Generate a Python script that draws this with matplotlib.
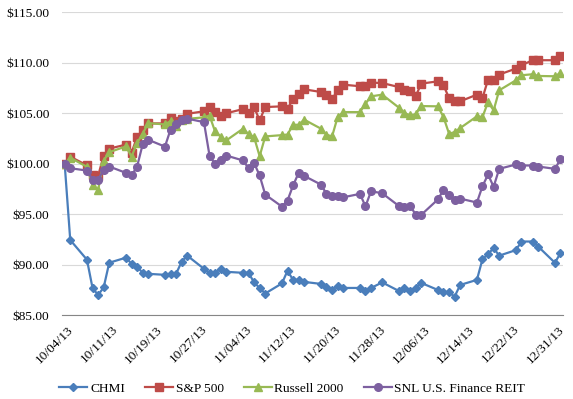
import matplotlib
matplotlib.use("Agg")
import matplotlib.pyplot as plt
import numpy as np
import pandas as pd

# trading days, Oct 3 - Dec 31 2013
dates = [
    "2013-10-03", "2013-10-04", "2013-10-07", "2013-10-08", "2013-10-09", "2013-10-10", "2013-10-11",
    "2013-10-14", "2013-10-15", "2013-10-16", "2013-10-17", "2013-10-18",
    "2013-10-21", "2013-10-22", "2013-10-23", "2013-10-24", "2013-10-25",
    "2013-10-28", "2013-10-29", "2013-10-30", "2013-10-31", "2013-11-01",
    "2013-11-04", "2013-11-05", "2013-11-06", "2013-11-07", "2013-11-08",
    "2013-11-11", "2013-11-12", "2013-11-13", "2013-11-14", "2013-11-15",
    "2013-11-18", "2013-11-19", "2013-11-20", "2013-11-21", "2013-11-22",
    "2013-11-25", "2013-11-26", "2013-11-27", "2013-11-29",
    "2013-12-02", "2013-12-03", "2013-12-04", "2013-12-05", "2013-12-06",
    "2013-12-09", "2013-12-10", "2013-12-11", "2013-12-12", "2013-12-13",
    "2013-12-16", "2013-12-17", "2013-12-18", "2013-12-19", "2013-12-20",
    "2013-12-23", "2013-12-24", "2013-12-26", "2013-12-27", "2013-12-30", "2013-12-31",
]

chmi = [100, 92.45, 90.5, 87.7, 87.0, 87.75, 90.2,
        90.7, 90.1, 89.8, 89.2, 89.1,
        89.0, 89.08, 89.1, 90.3, 90.9,
        89.6, 89.2, 89.2, 89.6, 89.3,
        89.2, 89.2, 88.25, 87.7, 87.15,
        88.15, 89.4, 88.5, 88.5, 88.3,
        88.1, 87.8, 87.5, 87.9, 87.7,
        87.7, 87.4, 87.7, 88.25,
        87.4, 87.65, 87.4, 87.7, 88.2,
        87.5, 87.3, 87.25, 86.85, 88.0,
        88.5, 90.55, 91.05, 91.65, 90.9,
        91.45, 92.3, 92.3, 91.8, 90.2, 91.15]

sp500 = [100, 100.7, 99.85, 98.85, 98.8, 100.8, 101.5,
         101.9, 101.1, 102.65, 103.35, 104.0,
         104.0, 104.55, 104.2, 104.45, 104.95,
         105.2, 105.6, 105.15, 104.75, 105.0,
         105.42, 105.08, 105.62, 104.3, 105.62,
         105.69, 105.46, 106.4, 106.95, 107.38,
         107.11, 106.85, 106.39, 107.28, 107.84,
         107.68, 107.68, 108.04, 108.0,
         107.6, 107.35, 107.18, 106.68, 107.94,
         108.17, 107.78, 106.51, 106.19, 106.19,
         106.85, 106.51, 108.34, 108.27, 108.84,
         109.43, 109.76, 110.26, 110.26, 110.26, 110.69]

russell = [100, 100.6, 99.7, 97.85, 97.4, 100.3, 101.15,
           101.72, 100.72, 102.05, 102.98, 104.03,
           103.9, 104.23, 103.74, 104.3, 104.45,
           104.6, 104.78, 103.2, 102.7, 102.31,
           103.47, 102.95, 102.64, 100.75, 102.71,
           102.84, 102.9, 103.85, 103.87, 104.37,
           103.48, 102.88, 102.71, 104.63, 105.12,
           105.12, 105.96, 106.68, 106.85,
           105.56, 105.02, 104.8, 104.9, 105.72,
           105.69, 104.63, 102.98, 103.14, 103.54,
           104.7, 104.63, 106.12, 105.29, 107.28,
           108.27, 108.77, 108.87, 108.7, 108.67, 109.0]

snl = [100, 99.56, 99.33, 98.44, 98.44, 99.4, 99.73,
       99.1, 98.84, 99.73, 101.92, 102.38,
       101.7, 103.38, 103.97, 104.37, 104.47,
       104.13, 100.82, 99.95, 100.33, 100.82,
       100.33, 99.58, 100.08, 98.84, 96.95,
       95.76, 96.36, 97.85, 99.1, 98.8,
       97.94, 97.02, 96.78, 96.78, 96.68,
       97.02, 95.79, 97.28, 97.08,
       95.82, 95.69, 95.86, 94.97, 94.94,
       96.47, 97.42, 96.95, 96.44, 96.55,
       96.16, 97.78, 98.94, 97.72, 99.5,
       99.93, 99.83, 99.83, 99.73, 99.5, 100.43]

tick_labels = ["10/04/13", "10/11/13", "10/19/13", "10/27/13", "11/04/13", "11/12/13",
               "11/20/13", "11/28/13", "12/06/13", "12/14/13", "12/22/13", "12/31/13"]

d = pd.to_datetime(dates)
x = np.array((d - d[0]).days)

plt.rcParams['font.family'] = ['Liberation Serif', 'DejaVu Serif']
fs = 9.6

fig = plt.figure(figsize=(5.73, 3.99), dpi=100)
ax = fig.add_axes([0.108, 0.21, 0.875, 0.759])

ax.plot(x, chmi, color='#4A7EBB', lw=1.6, marker='D', ms=4, label='CHMI', zorder=3)
ax.plot(x, sp500, color='#BE4B48', lw=1.6, marker='s', ms=5.5, label='S&P 500', zorder=3)
ax.plot(x, russell, color='#98B954', lw=1.6, marker='^', ms=6, label='Russell 2000', zorder=3)
ax.plot(x, snl, color='#7D60A0', lw=1.6, marker='o', ms=5.5, label='SNL U.S. Finance REIT', zorder=3)

ax.set_xlim(-0.5, x[-1] + 0.5)
ax.set_ylim(85, 115)
ax.set_yticks(np.arange(85, 116, 5))
ax.set_yticklabels(['$%.2f' % v for v in np.arange(85, 116, 5)], fontsize=fs)
ax.set_xticks(np.linspace(0.5, 88.5, len(tick_labels)))
ax.set_xticklabels(tick_labels, rotation=45, ha='right', rotation_mode='anchor', fontsize=fs)
ax.tick_params(axis='y', length=0, pad=9)
ax.tick_params(axis='x', length=0, pad=6)

ax.grid(axis='y', color='#D9D9D9', lw=0.8)
ax.set_axisbelow(True)
for s in ['top', 'right', 'left']:
    ax.spines[s].set_visible(False)
ax.spines['bottom'].set_color('#868686')

fig.legend(loc='lower center', bbox_to_anchor=(0.51, -0.02), ncol=4, frameon=False,
           fontsize=fs, handlelength=2.1, handletextpad=0.2, columnspacing=1.5)

fig.savefig('out.png', dpi=100)
